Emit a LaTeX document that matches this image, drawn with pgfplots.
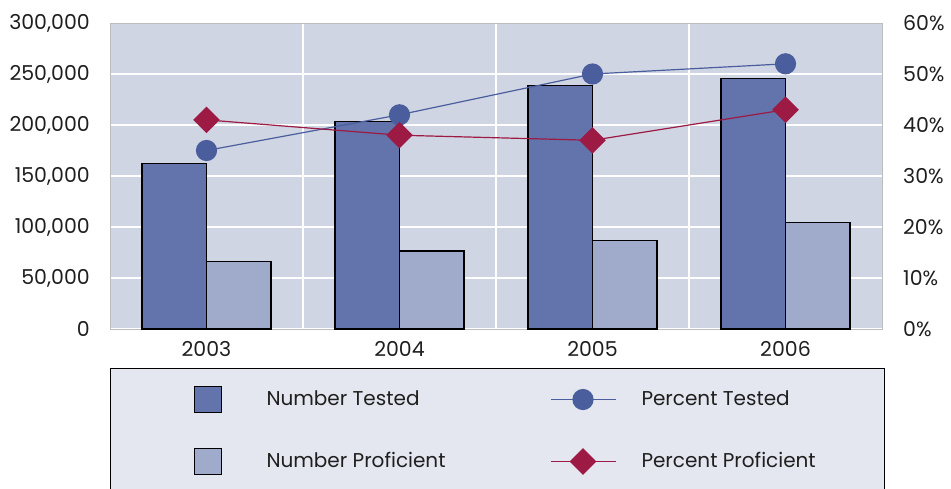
\documentclass[border=0pt]{standalone}
\usepackage{pgfplots}
\pgfplotsset{compat=1.18}
\usepackage{fontspec}
\setmainfont{Poppins}
\definecolor{bgc}{HTML}{D0D5E3}
\definecolor{legbg}{HTML}{E4E7F0}
\definecolor{barA}{HTML}{6373AC}
\definecolor{barB}{HTML}{A0AACA}
\definecolor{blueL}{HTML}{4A5E9E}
\definecolor{redL}{HTML}{9C1A43}
\definecolor{axgray}{HTML}{BDBDBD}
\pgfplotsset{
  lineleg/.style={legend image code/.code={
    \path[draw=none, fill=none] (0bp,-31bp) rectangle (95bp,31bp);
    \draw[mark repeat=2, mark phase=2, ##1] plot coordinates {(4bp,0bp) (36.5bp,0bp) (69bp,0bp)};}},
  barleg/.style={legend image code/.code={
    \path[draw=none, fill=none] (0bp,-31bp) rectangle (156bp,31bp);
    \draw[fill=#1, draw=black, line width=1.1bp] (84bp,-13bp) rectangle (111bp,13bp);}},
}
\begin{document}
\fontsize{20.5bp}{24bp}\selectfont
\begin{tikzpicture}
\useasboundingbox (-110bp,-160bp) rectangle (841bp,329bp);
\begin{axis}[
  scale only axis, width=772bp, height=306bp,
  xmin=-0.5, xmax=3.5, ymin=0, ymax=300000,
  axis background/.style={fill=bgc},
  axis line style={draw=axgray, line width=0.8bp},
  major tick length=0pt, minor tick length=0pt,
  xtick={0,1,2,3}, xticklabels={2003,2004,2005,2006},
  minor xtick={0.5,1.5,2.5},
  ytick={0,50000,100000,150000,200000,250000,300000},
  scaled y ticks=false,
  yticklabel={\pgfmathprintnumber[fixed, precision=0, 1000 sep={,}]{\tick}},
  /pgf/number format/assume math mode=true,
  ymajorgrids, xminorgrids,
  major grid style={white, line width=1.2bp},
  minor grid style={white, line width=1.2bp},
  yticklabel style={inner sep=0pt, anchor=east, xshift=-20bp},
  xticklabel style={inner sep=0pt, anchor=north, yshift=-12bp},
  tick label style={font=\fontsize{20.5bp}{24bp}\selectfont, text=black!88},
  ybar=0pt, bar width=64.5bp,
]
\addplot[fill=barA, draw=black, line width=1.1bp] coordinates {(0,162500) (1,203500) (2,238500) (3,245500)};
\addplot[fill=barB, draw=black, line width=1.1bp] coordinates {(0,66500) (1,76500) (2,87000) (3,104000)};
\end{axis}
\begin{axis}[
  scale only axis, width=772bp, height=306bp,
  xmin=-0.5, xmax=3.5, ymin=0, ymax=60,
  axis x line=none,
  axis y line*=right,
  axis line style={draw=axgray, line width=0.8bp},
  major tick length=0pt,
  ytick={0,10,20,30,40,50,60},
  yticklabel={\pgfmathprintnumber[fixed, precision=0]{\tick}\%},
  /pgf/number format/assume math mode=true,
  yticklabel style={inner sep=0pt, anchor=west, xshift=21bp},
  tick label style={font=\fontsize{20.5bp}{24bp}\selectfont, text=black!88},
  legend columns=2,
  legend cell align=left,
  legend style={at={(0,-0.1275)}, anchor=north west, draw=black, line width=1bp, fill=legbg,
    inner sep=0pt, column sep=0pt, row sep=0pt, nodes={inner sep=0pt, text=black!88},
    font=\fontsize{20bp}{24bp}\selectfont},
]
\addlegendimage{barleg=barA}
\addlegendentry{\makebox[280bp][l]{Number Tested}}
\addplot[color=blueL, line width=1.2bp, mark=*, mark size=10bp, lineleg]
  coordinates {(0,35) (1,42) (2,50) (3,52)};
\addlegendentry{\makebox[243bp][l]{Percent Tested}}
\addlegendimage{barleg=barB}
\addlegendentry{\makebox[280bp][l]{Number Proficient}}
\addplot[color=redL, line width=1.2bp, mark=square*, mark size=8.8bp, mark options={rotate=45}, lineleg]
  coordinates {(0,41) (1,38) (2,37) (3,43)};
\addlegendentry{\makebox[243bp][l]{Percent Proficient}}
\end{axis}
\end{tikzpicture}
\end{document}
